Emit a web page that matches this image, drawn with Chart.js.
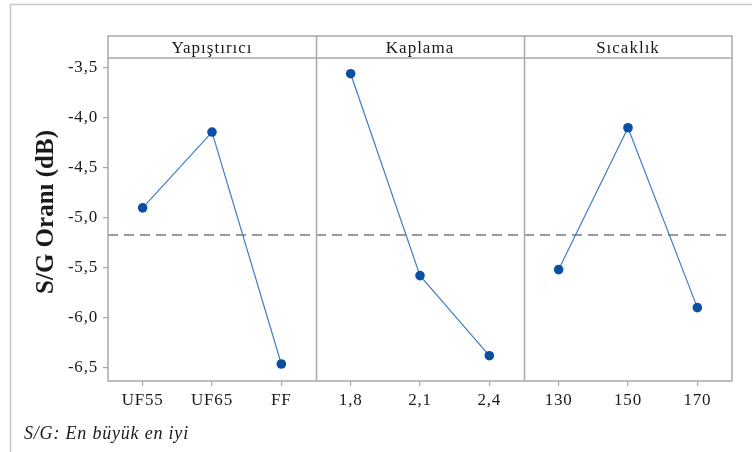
<!DOCTYPE html>
<html>
<head>
<meta charset="utf-8">
<script src="https://cdn.jsdelivr.net/npm/chart.js@4/dist/chart.umd.min.js"></script>
<style>
  html, body { margin: 0; padding: 0; background: #fff; }
  #wrap { position: relative; width: 752px; height: 452px; }
</style>
</head>
<body>
<div id="wrap"><canvas id="c" width="752" height="452"></canvas></div>
<script>
// Factors and their levels
const factors = ['Yapıştırıcı', 'Kaplama', 'Sıcaklık'];
const yapistiriciLevels = ['UF55', 'UF65', 'FF'];
const kaplamaLevels = ['1,8', '2,1', '2,4'];
const sicaklikLevels = ['130', '150', '170'];

// Mean S/N ratio (dB) for each level
const yapistiriciSN = [-4.905, -4.148, -6.465];
const kaplamaSN = [-3.565, -5.582, -6.382];
const sicaklikSN = [-5.522, -4.105, -5.902];

// Y axis ticks
const yTicks = [-3.5, -4.0, -4.5, -5.0, -5.5, -6.0, -6.5];

const SERIF = '"Liberation Serif", "Times New Roman", serif';
const levelSets = [yapistiriciLevels, kaplamaLevels, sicaklikLevels];
const valueSets = [yapistiriciSN, kaplamaSN, sicaklikSN];

// Each factor gets a panel three units wide on a shared linear x scale
const tickPos = [];
const tickText = {};
levelSets.forEach((levels, p) => levels.forEach((lab, i) => {
  const x = p * 3 + i + 0.5;
  tickPos.push(x);
  tickText[x] = lab;
}));

const allValues = valueSets.flat();
const grandMean = allValues.reduce((a, b) => a + b, 0) / allValues.length;

const lineDatasets = valueSets.map((vals, p) => ({
  label: factors[p],
  data: vals.map((v, i) => ({ x: p * 3 + i + 0.5, y: v })),
  borderColor: '#3f7cc8',
  borderWidth: 1.2,
  pointBackgroundColor: '#0b4fa3',
  pointBorderColor: '#0b4fa3',
  pointRadius: 4.8,
  pointBorderWidth: 0,
  tension: 0,
  order: 1
}));

const meanDataset = {
  label: 'mean',
  data: [{ x: 0, y: grandMean }, { x: 9, y: grandMean }],
  borderColor: '#9a9a9a',
  borderWidth: 2,
  borderDash: [10, 6],
  pointRadius: 0,
  order: 2
};

const panelPlugin = {
  id: 'panels',
  beforeUpdate(chart) {
    // slightly spaced serif lettering for the axis labels
    chart.ctx.letterSpacing = '0.8px';
  },
  beforeDraw(chart) {
    const ctx = chart.ctx;
    ctx.letterSpacing = '0.8px';
    ctx.save();
    ctx.strokeStyle = '#c8c8c8';
    ctx.lineWidth = 1.5;
    ctx.beginPath();
    ctx.moveTo(10.5, 452);
    ctx.lineTo(10.5, 4.5);
    ctx.lineTo(752, 4.5);
    ctx.stroke();
    ctx.restore();
  },
  afterDraw(chart) {
    const ctx = chart.ctx;
    const a = chart.chartArea;
    const xs = chart.scales.x;
    const stripTop = 36;
    ctx.save();
    ctx.strokeStyle = '#a8a8a8';
    ctx.lineWidth = 1.5;
    // plot frame + strip frame
    ctx.strokeRect(a.left, stripTop, a.right - a.left, a.bottom - stripTop);
    ctx.beginPath();
    ctx.moveTo(a.left, a.top);
    ctx.lineTo(a.right, a.top);
    [3, 6].forEach(v => {
      const px = Math.round(xs.getPixelForValue(v)) + 0.5;
      ctx.moveTo(px, stripTop);
      ctx.lineTo(px, a.bottom);
    });
    ctx.stroke();
    // strip titles
    ctx.fillStyle = '#1a1a1a';
    ctx.font = '17px ' + SERIF;
    ctx.letterSpacing = '1px';
    ctx.textAlign = 'center';
    ctx.textBaseline = 'alphabetic';
    factors.forEach((f, p) => {
      const cx = (xs.getPixelForValue(p * 3) + xs.getPixelForValue(p * 3 + 3)) / 2;
      ctx.fillText(f, cx, 53);
    });
    // y axis title
    ctx.save();
    ctx.translate(53, 212);
    ctx.rotate(-Math.PI / 2);
    ctx.font = 'bold 25px ' + SERIF;
    ctx.letterSpacing = '0px';
    ctx.textAlign = 'center';
    ctx.fillText('S/G Oranı (dB)', 0, 0);
    ctx.restore();
    // note below the chart
    ctx.font = 'italic 18px ' + SERIF;
    ctx.letterSpacing = '0.8px';
    ctx.textAlign = 'left';
    ctx.fillText('S/G: En büyük en iyi', 24, 439);
    ctx.restore();
  }
};

new Chart(document.getElementById('c'), {
  type: 'line',
  data: { datasets: [...lineDatasets, meanDataset] },
  options: {
    responsive: false,
    animation: false,
    devicePixelRatio: 1,
    layout: { padding: { top: 58, right: 20, left: 0, bottom: 0 } },
    plugins: { legend: { display: false }, tooltip: { enabled: false } },
    scales: {
      x: {
        type: 'linear',
        min: 0,
        max: 9,
        afterBuildTicks(scale) { scale.ticks = tickPos.map(v => ({ value: v })); },
        afterFit(scale) { scale.height = 71; },
        ticks: {
          autoSkip: false,
          maxRotation: 0,
          padding: 4,
          color: '#1a1a1a',
          font: { family: SERIF, size: 17 },
          callback: v => tickText[v]
        },
        grid: { drawOnChartArea: false, drawTicks: true, tickLength: 5, color: '#a8a8a8', lineWidth: 1.2 },
        border: { display: false }
      },
      y: {
        type: 'linear',
        min: -6.635,
        max: -3.408,
        afterBuildTicks(scale) { scale.ticks = yTicks.map(v => ({ value: v })); },
        afterFit(scale) { scale.width = 108; },
        ticks: {
          padding: 5,
          color: '#1a1a1a',
          font: { family: SERIF, size: 17 },
          callback: v => v.toFixed(1).replace('.', ',')
        },
        grid: { drawOnChartArea: false, drawTicks: true, tickLength: 5, color: '#a8a8a8', lineWidth: 1.2 },
        border: { display: false }
      }
    }
  },
  plugins: [panelPlugin]
});
</script>
</body>
</html>
